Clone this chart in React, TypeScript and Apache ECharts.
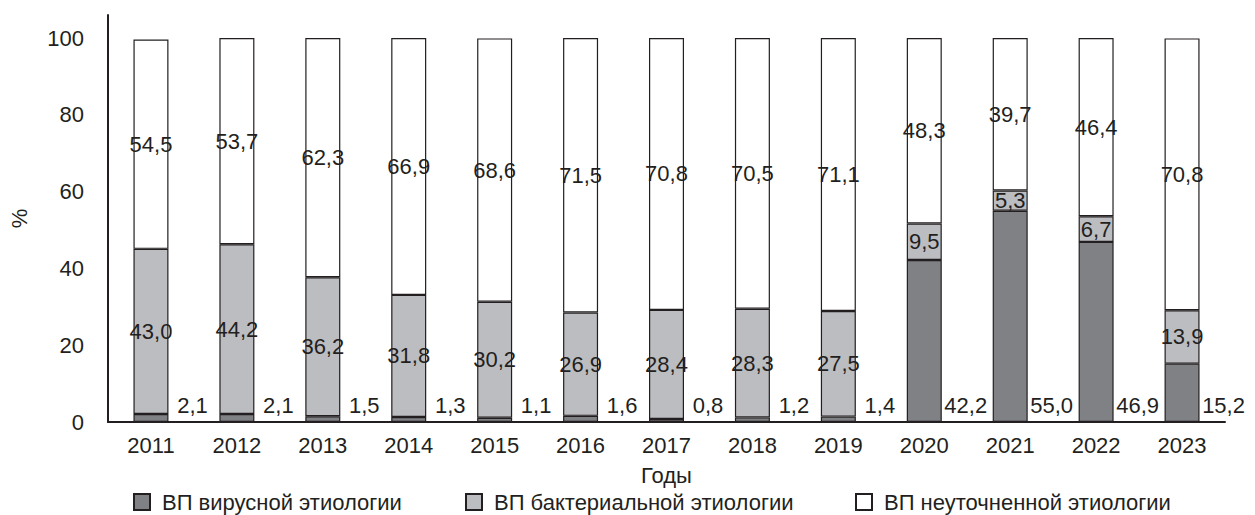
import React, { useEffect, useRef } from "react";
import * as echarts from "echarts";

const years = ["2011", "2012", "2013", "2014", "2015", "2016", "2017", "2018", "2019", "2020", "2021", "2022", "2023"];
const viral = [2.1, 2.1, 1.5, 1.3, 1.1, 1.6, 0.8, 1.2, 1.4, 42.2, 55.0, 46.9, 15.2];
const bacterial = [43.0, 44.2, 36.2, 31.8, 30.2, 26.9, 28.4, 28.3, 27.5, 9.5, 5.3, 6.7, 13.9];
const unspecified = [54.5, 53.7, 62.3, 66.9, 68.6, 71.5, 70.8, 70.5, 71.1, 48.3, 39.7, 46.4, 70.8];
const yTicks = [0, 20, 40, 60, 80, 100];
const seriesNames = ["ВП вирусной этиологии", "ВП бактериальной этиологии", "ВП неуточненной этиологии"];

const FONT = "Liberation Sans, Arial, sans-serif";
const TXT = "#231f20";
const FS = 22;
const fmt = (v: number) => v.toFixed(1).replace(".", ",");

export default function App() {
  const ref = useRef<HTMLDivElement>(null);
  useEffect(() => {
    if (!ref.current) return;
    const chart = echarts.init(ref.current, undefined, { renderer: "svg" });
    const border = { borderColor: TXT, borderWidth: 1.2 };
    const inLabel = {
      show: true,
      position: "inside",
      color: TXT,
      fontFamily: FONT,
      fontSize: FS,
      formatter: (p: any) => fmt(p.value),
    };
    chart.setOption({
      animation: false,
      textStyle: { fontFamily: FONT, color: TXT },
      grid: { left: 104, right: 30, top: 15, bottom: 93, containLabel: false },
      legend: seriesNames.map((n, i) => ({
        data: [n],
        left: [128, 460, 850][i],
        top: 486,
        itemWidth: 16,
        itemHeight: 16,
        icon: "rect",
        textStyle: { fontFamily: FONT, fontSize: FS, color: TXT, lineHeight: 22, padding: [0, 0, 0, 7] },
        selectedMode: false,
      })),
      xAxis: {
        type: "category",
        data: years,
        name: "Годы",
        nameLocation: "middle",
        nameGap: 42,
        nameTextStyle: { fontFamily: FONT, fontSize: FS, color: TXT },
        axisLine: { lineStyle: { color: TXT, width: 2 } },
        axisTick: { show: false },
        axisLabel: { fontFamily: FONT, fontSize: FS, color: TXT, margin: 12 },
      },
      yAxis: {
        type: "value",
        min: 0,
        max: 106,
        interval: 20,
        name: "%",
        nameLocation: "middle",
        nameGap: 78,
        nameTextStyle: { fontFamily: FONT, fontSize: FS, color: TXT },
        axisLine: { show: true, lineStyle: { color: TXT, width: 2 } },
        axisTick: { show: false },
        splitLine: { show: false },
        axisLabel: {
          fontFamily: FONT,
          fontSize: FS,
          color: TXT,
          margin: 24,
          formatter: (v: number) => (yTicks.includes(v) ? String(v) : ""),
        },
      },
      series: [
        {
          name: seriesNames[0],
          type: "bar",
          stack: "total",
          barWidth: 35,
          data: viral,
          itemStyle: { color: "#808184", ...border },
          label: {
            show: true,
            position: ["100%", "100%"],
            align: "center",
            verticalAlign: "middle",
            offset: [24, -17],
            color: TXT,
            fontFamily: FONT,
            fontSize: FS,
            formatter: (p: any) => fmt(p.value),
          },
        },
        {
          name: seriesNames[1],
          type: "bar",
          stack: "total",
          barWidth: 35,
          data: bacterial,
          itemStyle: { color: "#bcbdc0", ...border },
          label: inLabel,
        },
        {
          name: seriesNames[2],
          type: "bar",
          stack: "total",
          barWidth: 35,
          data: unspecified,
          itemStyle: { color: "#ffffff", ...border },
          label: inLabel,
        },
      ],
    });
    return () => chart.dispose();
  }, []);
  return <div ref={ref} style={{ position: "absolute", left: 0, top: 0, width: 1255, height: 515 }} />;
}
